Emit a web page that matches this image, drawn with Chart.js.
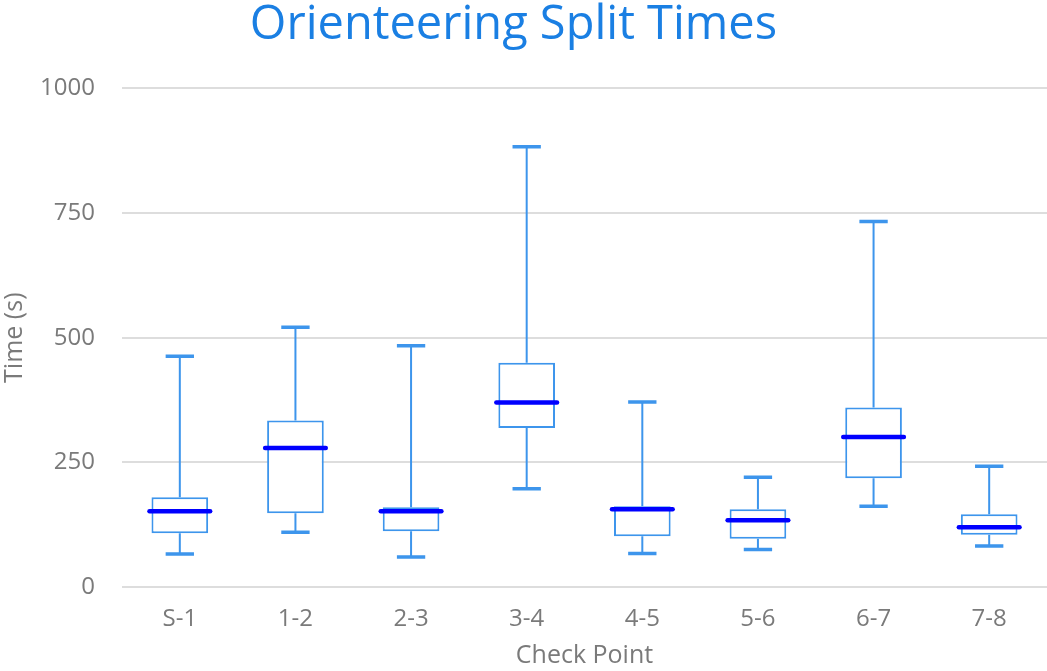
<!DOCTYPE html>
<html>
<head>
<meta charset="utf-8">
<script src="https://cdn.jsdelivr.net/npm/chart.js@4"></script>
<style>
  body { margin: 0; background: #fff; }
  #chart { display: block; }
</style>
</head>
<body>
<canvas id="chart" width="1047" height="671"></canvas>
<script>
// Data (seconds)
const CHECK_POINTS = ['S-1', '1-2', '2-3', '3-4', '4-5', '5-6', '6-7', '7-8'];
const MIN_TIMES = [66, 110, 60, 197, 67, 75, 162, 82];
const Q1_TIMES = [108, 148, 112, 319, 102, 97, 218, 105];
const MEDIAN_TIMES = [152, 279, 152, 370, 156, 134, 301, 120];
const Q3_TIMES = [180, 334, 160, 450, 162, 156, 360, 146];
const MAX_TIMES = [463, 521, 484, 883, 371, 220, 733, 242];
const Y_TICKS = [0, 250, 500, 750, 1000];

const BOX_COLOR = '#3d95ec';
const MEDIAN_COLOR = '#0000ff';
const TEXT_COLOR = '#7a7a7a';

// Whiskers, caps and medians drawn on top of the floating bars
const boxPlotPlugin = {
    id: 'boxPlot',
    afterLayout(chart) {
        // title sits a little left of the canvas centre in the original
        if (chart.titleBlock) {
            chart.titleBlock.left -= 10;
            chart.titleBlock.right -= 10;
        }
    },
    afterDatasetsDraw(chart) {
        const { ctx, scales } = chart;
        const bars = chart.getDatasetMeta(0).data;
        ctx.save();
        bars.forEach((bar, i) => {
            const x = scales.x.getPixelForValue(i);
            const half = bar.width / 2;
            const yMin = scales.y.getPixelForValue(MIN_TIMES[i]);
            const yQ1 = scales.y.getPixelForValue(Q1_TIMES[i]);
            const yQ3 = scales.y.getPixelForValue(Q3_TIMES[i]);
            const yMax = scales.y.getPixelForValue(MAX_TIMES[i]);
            const yMed = scales.y.getPixelForValue(MEDIAN_TIMES[i]);

            ctx.strokeStyle = BOX_COLOR;
            ctx.lineWidth = 2;
            ctx.beginPath();
            ctx.moveTo(x, yQ3);
            ctx.lineTo(x, yMax);
            ctx.moveTo(x, yQ1);
            ctx.lineTo(x, yMin);
            ctx.stroke();

            ctx.lineWidth = 3.5;
            ctx.beginPath();
            ctx.moveTo(x - half * 0.5, yMax);
            ctx.lineTo(x + half * 0.5, yMax);
            ctx.moveTo(x - half * 0.5, yMin);
            ctx.lineTo(x + half * 0.5, yMin);
            ctx.stroke();

            ctx.strokeStyle = MEDIAN_COLOR;
            ctx.lineWidth = 4.5;
            ctx.lineCap = 'round';
            ctx.beginPath();
            ctx.moveTo(x - half - 2, yMed);
            ctx.lineTo(x + half + 2, yMed);
            ctx.stroke();
            ctx.lineCap = 'butt';
        });
        ctx.restore();
    }
};

new Chart(document.getElementById('chart'), {
    type: 'bar',
    data: {
        labels: CHECK_POINTS,
        datasets: [{
            label: 'Split Time',
            data: CHECK_POINTS.map((_, i) => [Q1_TIMES[i], Q3_TIMES[i]]),
            backgroundColor: 'rgba(255, 255, 255, 1)',
            borderColor: BOX_COLOR,
            borderWidth: 2,
            borderSkipped: false,
            barPercentage: 0.49,
            categoryPercentage: 1.0
        }]
    },
    options: {
        responsive: false,
        animation: false,
        layout: { padding: 0 },
        plugins: {
            legend: { display: false },
            tooltip: { enabled: false },
            title: {
                display: true,
                text: 'Orienteering Split Times',
                color: '#1a7fe3',
                font: { family: 'Open Sans', size: 47, weight: 'normal' },
                padding: { top: -3, bottom: 35 }
            }
        },
        scales: {
            x: {
                grid: { display: false },
                border: { display: false },
                afterFit: (axis) => { axis.height = 84; },
                ticks: {
                    color: TEXT_COLOR,
                    font: { family: 'Open Sans', size: 24 },
                    padding: 10
                },
                title: {
                    display: true,
                    text: 'Check Point',
                    color: TEXT_COLOR,
                    font: { family: 'Open Sans', size: 25 },
                    padding: { top: 0, bottom: 0 }
                }
            },
            y: {
                min: 0,
                max: 1000,
                afterBuildTicks: (axis) => {
                    axis.ticks = Y_TICKS.map(v => ({ value: v }));
                },
                afterFit: (axis) => { axis.width = 122; },
                grid: { color: '#dddddd', lineWidth: 2, drawTicks: false },
                border: { display: false },
                ticks: {
                    color: TEXT_COLOR,
                    font: { family: 'Open Sans', size: 24 },
                    padding: 27,
                    callback: (value) => String(value)
                },
                title: {
                    display: true,
                    text: 'Time (s)',
                    color: TEXT_COLOR,
                    font: { family: 'Open Sans', size: 25 },
                    padding: { top: 0, bottom: 0 }
                }
            }
        }
    },
    plugins: [boxPlotPlugin]
});
</script>
</body>
</html>
